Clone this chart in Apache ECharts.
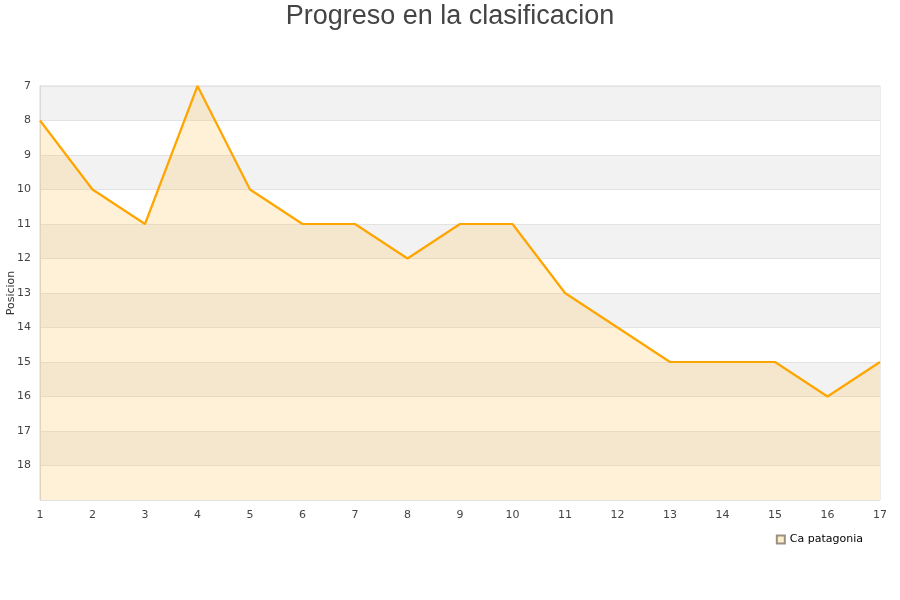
<!DOCTYPE html>
<html><head><meta charset="utf-8">
<script src="https://cdn.jsdelivr.net/npm/echarts@6/dist/echarts.min.js"></script>
<style>html,body{margin:0;padding:0;background:#fff}#c{width:900px;height:600px}</style>
</head><body><div id="c"></div>
<script>
const jornadas = ['1','2','3','4','5','6','7','8','9','10','11','12','13','14','15','16','17'];
const posiciones = [8,10,11,7,10,11,11,12,11,11,13,14,15,15,15,16,15];
const serieNombre = 'Ca patagonia';
const titulo = 'Progreso en la clasificacion';

const chart = echarts.init(document.getElementById('c'));
chart.setOption({
  animation: false,
  backgroundColor: '#fff',
  title: {
    text: titulo, left: 'center', top: -2,
    textStyle: {fontFamily: 'Liberation Sans', fontSize: 27, fontWeight: 'normal', color: '#444'}
  },
  legend: {
    data: [{name: serieNombre, icon: 'rect'}],
    right: 32, top: 529, itemWidth: 8, itemHeight: 8, itemGap: 11,
    textStyle: {fontFamily: 'DejaVu Sans', fontSize: 11, color: '#000'}
  },
  grid: {left: 40, right: 20, top: 86, bottom: 100, containLabel: false, outerBoundsMode: 'none',
         show: true, borderColor: '#d9d9d9', borderWidth: 1, backgroundColor: 'transparent'},
  xAxis: {
    type: 'category', data: jornadas, boundaryGap: false,
    axisLine: {show: false}, axisTick: {show: false},
    axisLabel: {fontFamily: 'DejaVu Sans', fontSize: 11, color: '#444', margin: 10}
  },
  yAxis: {
    type: 'value', inverse: true, min: 7, max: 19, interval: 1,
    name: 'Posicion', nameLocation: 'middle', nameGap: 23, nameMoveOverlap: false,
    nameTextStyle: {fontFamily: 'DejaVu Sans', fontSize: 11, color: '#333'},
    axisLine: {show: true, lineStyle: {color: '#d9d9d9'}}, axisTick: {show: false},
    axisLabel: {fontFamily: 'DejaVu Sans', fontSize: 11, color: '#444', margin: 9, showMaxLabel: false},
    splitLine: {show: true, lineStyle: {color: '#e2e2e2'}},
    splitArea: {show: true, areaStyle: {color: ['#f2f2f2', '#ffffff']}}
  },
  series: [{
    name: serieNombre, type: 'line', data: posiciones,
    showSymbol: false, symbol: 'none',
    lineStyle: {color: '#ffa500', width: 2.2},
    itemStyle: {color: '#fdedcc', borderColor: '#9a9080', borderWidth: 1},
    areaStyle: {color: 'rgba(255,200,100,0.36)', origin: 'end'}
  }]
});
</script></body></html>
